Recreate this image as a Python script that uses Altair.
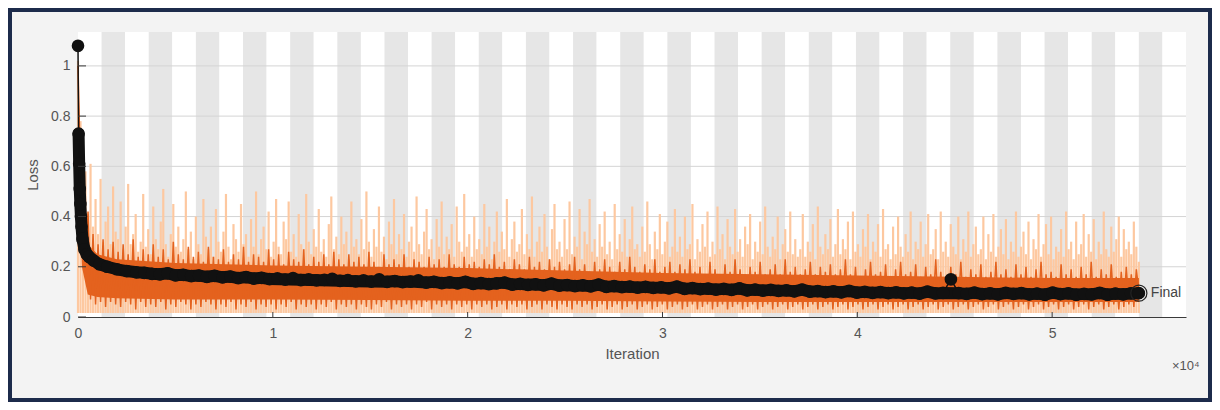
import altair as alt
import pandas as pd

# ---------------- data ----------------
# raw (light) training loss peaks, evenly sampled from iteration 0 to 54450
light_raw = [
    1.02, 0.78, 0.62, 0.58, 0.41, 0.61, 0.36, 0.47, 0.33, 0.55, 0.30, 0.38, 0.44, 0.29, 0.52, 0.34,
    0.31, 0.46, 0.27, 0.36, 0.53, 0.29, 0.33, 0.41, 0.26, 0.30, 0.49, 0.28, 0.35, 0.25, 0.44, 0.31,
    0.27, 0.38, 0.51, 0.29, 0.24, 0.33, 0.45, 0.28, 0.36, 0.26, 0.31, 0.50, 0.27, 0.34, 0.23, 0.40,
    0.29, 0.25, 0.47, 0.32, 0.27, 0.36, 0.24, 0.43, 0.30, 0.26, 0.34, 0.49, 0.28, 0.23, 0.37, 0.31,
    0.26, 0.45, 0.29, 0.33, 0.24, 0.39, 0.28, 0.50, 0.25, 0.31, 0.36, 0.27, 0.42, 0.24, 0.30, 0.47,
    0.28, 0.25, 0.38, 0.31, 0.46, 0.26, 0.33, 0.24, 0.41, 0.29, 0.27, 0.49, 0.30, 0.25, 0.35, 0.28,
    0.43, 0.26, 0.31, 0.24, 0.37, 0.48, 0.27, 0.32, 0.25, 0.40, 0.29, 0.34, 0.23, 0.46, 0.28, 0.31,
    0.25, 0.39, 0.27, 0.50, 0.30, 0.24, 0.35, 0.28, 0.44, 0.26, 0.32, 0.23, 0.38, 0.29, 0.47, 0.25,
    0.33, 0.27, 0.41, 0.24, 0.30, 0.36, 0.26, 0.48, 0.29, 0.25, 0.34, 0.43, 0.27, 0.31, 0.23, 0.39,
    0.28, 0.46, 0.25, 0.32, 0.27, 0.37, 0.24, 0.44, 0.30, 0.26, 0.49, 0.28, 0.33, 0.24, 0.40, 0.27,
    0.31, 0.25, 0.45, 0.28, 0.36, 0.23, 0.30, 0.42, 0.26, 0.34, 0.27, 0.47, 0.24, 0.31, 0.38, 0.26,
    0.29, 0.43, 0.25, 0.33, 0.27, 0.48, 0.24, 0.30, 0.36, 0.26, 0.41, 0.28, 0.23, 0.35, 0.45, 0.27,
    0.30, 0.24, 0.39, 0.27, 0.46, 0.25, 0.32, 0.28, 0.43, 0.23, 0.34, 0.29, 0.47, 0.26, 0.31, 0.24,
    0.37, 0.28, 0.42, 0.25, 0.30, 0.23, 0.45, 0.27, 0.33, 0.26, 0.39, 0.24, 0.31, 0.44, 0.27, 0.29,
    0.24, 0.36, 0.26, 0.46, 0.29, 0.23, 0.34, 0.27, 0.41, 0.25, 0.30, 0.38, 0.24, 0.28, 0.43, 0.26,
    0.32, 0.24, 0.40, 0.27, 0.29, 0.45, 0.23, 0.31, 0.26, 0.37, 0.28, 0.42, 0.24, 0.30, 0.25, 0.44,
    0.27, 0.33, 0.23, 0.39, 0.28, 0.25, 0.43, 0.26, 0.31, 0.24, 0.36, 0.29, 0.41, 0.23, 0.30, 0.26,
    0.38, 0.25, 0.44, 0.28, 0.24, 0.32, 0.27, 0.40, 0.23, 0.29, 0.35, 0.26, 0.42, 0.25, 0.31, 0.24,
    0.27, 0.41, 0.24, 0.30, 0.26, 0.37, 0.23, 0.44, 0.28, 0.25, 0.33, 0.27, 0.39, 0.24, 0.29, 0.43,
    0.25, 0.31, 0.27, 0.38, 0.23, 0.42, 0.26, 0.29, 0.24, 0.35, 0.28, 0.41, 0.23, 0.30, 0.26, 0.37,
    0.24, 0.43, 0.27, 0.29, 0.23, 0.36, 0.25, 0.40, 0.28, 0.24, 0.33, 0.26, 0.42, 0.23, 0.30, 0.27,
    0.38, 0.24, 0.29, 0.41, 0.25, 0.27, 0.35, 0.23, 0.42, 0.26, 0.30, 0.24, 0.37, 0.28, 0.25, 0.40,
    0.23, 0.31, 0.26, 0.42, 0.24, 0.29, 0.36, 0.25, 0.27, 0.40, 0.23, 0.33, 0.26, 0.41, 0.24, 0.28,
    0.35, 0.25, 0.39, 0.23, 0.30, 0.26, 0.42, 0.24, 0.28, 0.34, 0.25, 0.38, 0.23, 0.31, 0.27, 0.41,
    0.24, 0.29, 0.37, 0.25, 0.40, 0.23, 0.28, 0.26, 0.35, 0.24, 0.42, 0.27, 0.30, 0.23, 0.38, 0.25,
    0.29, 0.41, 0.24, 0.33, 0.26, 0.39, 0.23, 0.30, 0.25, 0.42, 0.27, 0.24, 0.36, 0.26, 0.31, 0.40,
    0.24, 0.35, 0.27, 0.30, 0.25, 0.38, 0.28, 0.22,
]

# dark orange training trace (alternating highs / lows), evenly sampled 0 .. 54450
dark_raw = [
    1.00, 0.55, 0.70, 0.20, 0.42, 0.07, 0.33, 0.05, 0.29, 0.06, 0.31, 0.04, 0.27, 0.06, 0.30, 0.05,
    0.26, 0.04, 0.29, 0.06, 0.25, 0.05, 0.31, 0.03, 0.24, 0.06, 0.27, 0.04, 0.25, 0.05, 0.29, 0.04,
    0.24, 0.06, 0.27, 0.03, 0.23, 0.05, 0.30, 0.04, 0.25, 0.06, 0.23, 0.05, 0.28, 0.03, 0.24, 0.05,
    0.26, 0.04, 0.22, 0.06, 0.28, 0.05, 0.24, 0.03, 0.23, 0.05, 0.27, 0.04, 0.22, 0.06, 0.25, 0.03,
    0.23, 0.05, 0.28, 0.04, 0.22, 0.06, 0.25, 0.03, 0.24, 0.05, 0.22, 0.04, 0.27, 0.05, 0.23, 0.03,
    0.25, 0.05, 0.21, 0.04, 0.26, 0.06, 0.23, 0.03, 0.22, 0.05, 0.27, 0.04, 0.21, 0.05, 0.24, 0.03,
    0.22, 0.05, 0.25, 0.04, 0.21, 0.06, 0.26, 0.03, 0.23, 0.05, 0.21, 0.04, 0.25, 0.05, 0.22, 0.03,
    0.24, 0.05, 0.21, 0.04, 0.26, 0.03, 0.22, 0.05, 0.20, 0.04, 0.25, 0.06, 0.21, 0.03, 0.23, 0.05,
    0.21, 0.04, 0.25, 0.05, 0.20, 0.03, 0.23, 0.05, 0.22, 0.04, 0.20, 0.06, 0.24, 0.03, 0.21, 0.05,
    0.23, 0.04, 0.20, 0.05, 0.25, 0.03, 0.21, 0.05, 0.20, 0.04, 0.24, 0.05, 0.21, 0.03, 0.22, 0.05,
    0.20, 0.04, 0.23, 0.05, 0.21, 0.03, 0.25, 0.04, 0.20, 0.05, 0.22, 0.03, 0.19, 0.05, 0.23, 0.04,
    0.21, 0.05, 0.19, 0.03, 0.24, 0.04, 0.20, 0.05, 0.22, 0.03, 0.19, 0.05, 0.23, 0.04, 0.20, 0.03,
    0.22, 0.05, 0.19, 0.04, 0.21, 0.03, 0.24, 0.05, 0.19, 0.04, 0.21, 0.05, 0.18, 0.03, 0.22, 0.04,
    0.19, 0.05, 0.23, 0.03, 0.20, 0.04, 0.18, 0.05, 0.22, 0.03, 0.19, 0.04, 0.24, 0.05, 0.20, 0.03,
    0.18, 0.04, 0.21, 0.05, 0.19, 0.03, 0.23, 0.04, 0.18, 0.05, 0.20, 0.03, 0.22, 0.04, 0.18, 0.05,
    0.21, 0.03, 0.19, 0.04, 0.23, 0.05, 0.18, 0.03, 0.20, 0.04, 0.17, 0.05, 0.22, 0.03, 0.19, 0.04,
    0.17, 0.05, 0.21, 0.03, 0.18, 0.04, 0.23, 0.05, 0.19, 0.03, 0.17, 0.04, 0.20, 0.05, 0.18, 0.03,
    0.22, 0.04, 0.17, 0.05, 0.19, 0.03, 0.21, 0.04, 0.17, 0.05, 0.23, 0.03, 0.18, 0.04, 0.20, 0.05,
    0.17, 0.03, 0.19, 0.04, 0.22, 0.05, 0.17, 0.03, 0.20, 0.04, 0.18, 0.05, 0.21, 0.03, 0.17, 0.04,
    0.19, 0.05, 0.23, 0.03, 0.17, 0.04, 0.20, 0.05, 0.16, 0.03, 0.19, 0.04, 0.22, 0.05, 0.17, 0.03,
    0.18, 0.04, 0.21, 0.05, 0.16, 0.03, 0.19, 0.04, 0.22, 0.05, 0.17, 0.03, 0.18, 0.04, 0.21, 0.05,
    0.16, 0.03, 0.20, 0.04, 0.17, 0.05, 0.23, 0.03, 0.18, 0.04, 0.16, 0.05, 0.20, 0.03, 0.17, 0.04,
    0.22, 0.05, 0.16, 0.03, 0.19, 0.04, 0.17, 0.05, 0.21, 0.03, 0.16, 0.04, 0.18, 0.05, 0.22, 0.03,
    0.17, 0.04, 0.19, 0.05, 0.16, 0.03, 0.21, 0.04, 0.17, 0.05, 0.20, 0.03, 0.16, 0.04, 0.19, 0.05,
    0.22, 0.03, 0.17, 0.04, 0.18, 0.05, 0.16, 0.03, 0.21, 0.04, 0.17, 0.05, 0.19, 0.03, 0.16, 0.04,
    0.20, 0.05, 0.17, 0.03, 0.22, 0.04, 0.16, 0.05, 0.19, 0.03, 0.17, 0.04, 0.21, 0.05, 0.16, 0.03,
    0.18, 0.04, 0.20, 0.05, 0.17, 0.04, 0.19, 0.10,
]

# dense core of the dark trace (upper / lower edge)
core_iter = [0, 200, 500, 1000, 2000, 5000, 10000, 15000, 20000, 25000,
             30000, 35000, 40000, 45000, 50000, 54450]
dark_hi = [1.00, 0.45, 0.29, 0.25, 0.23, 0.215, 0.205, 0.20, 0.195, 0.185,
           0.175, 0.17, 0.165, 0.16, 0.155, 0.155]
dark_lo = [0.60, 0.20, 0.09, 0.08, 0.075, 0.07, 0.07, 0.068, 0.065, 0.065,
           0.062, 0.06, 0.06, 0.06, 0.06, 0.06]

# validation loss (black dots)
val_early_iter = [0, 30, 60, 90, 120, 150, 180, 230, 330, 450, 560, 800,
                  1100, 1500, 2000, 2500, 3000]
val_early = [1.08, 0.73, 0.61, 0.51, 0.45, 0.40, 0.36, 0.31, 0.27, 0.25, 0.24,
             0.225, 0.21, 0.20, 0.19, 0.183, 0.178]
val_late = [  # evenly spaced from 3400 to 54450
    0.176, 0.172, 0.170, 0.174, 0.166, 0.168, 0.163, 0.165, 0.160, 0.164, 0.158, 0.161, 0.155, 0.159, 0.153, 0.156,
    0.151, 0.154, 0.149, 0.155, 0.147, 0.150, 0.146, 0.148, 0.152, 0.144, 0.147, 0.142, 0.146, 0.141, 0.150, 0.140,
    0.143, 0.139, 0.141, 0.146, 0.137, 0.140, 0.135, 0.138, 0.134, 0.140, 0.132, 0.135, 0.131, 0.134, 0.137, 0.129,
    0.132, 0.128, 0.130, 0.126, 0.133, 0.125, 0.127, 0.123, 0.126, 0.122, 0.129, 0.120, 0.123, 0.119, 0.121, 0.117,
    0.120, 0.116, 0.118, 0.114, 0.121, 0.112, 0.115, 0.111, 0.113, 0.109, 0.112, 0.108, 0.114, 0.106, 0.109, 0.105,
    0.108, 0.104, 0.106, 0.102, 0.109, 0.101, 0.103, 0.099, 0.102, 0.098, 0.104, 0.097, 0.100, 0.096, 0.099, 0.095,
    0.098, 0.094, 0.097, 0.093, 0.101, 0.094, 0.096, 0.150, 0.095, 0.092, 0.097, 0.091, 0.094, 0.090, 0.096, 0.092,
    0.095, 0.090, 0.093, 0.089, 0.097, 0.091, 0.094, 0.089, 0.092, 0.090, 0.096, 0.089, 0.093, 0.090, 0.094, 0.095,
]
val_late_start = 3400

final_iter = 54450
iters_per_epoch = 1210
n_epochs_shown = 47
x_ticks = [0, 10000, 20000, 30000, 40000, 50000]
y_ticks = [0, 0.2, 0.4, 0.6, 0.8, 1.0]

# ---------------- build tables ----------------
W, H = 1108, 285
XMAX = iters_per_epoch * n_epochs_shown
YMAX = 1.135

def even_iters(values, start, end):
    n = len(values)
    return [start + (end - start) * i / (n - 1) for i in range(n)]

light_df = pd.DataFrame({"iter": even_iters(light_raw, 0, final_iter), "loss": light_raw})
dark_df = pd.DataFrame({"iter": even_iters(dark_raw, 0, final_iter), "loss": dark_raw})
core_df = pd.DataFrame({"iter": core_iter, "dhi": dark_hi, "dlo": dark_lo})
val_df = pd.DataFrame({
    "iter": val_early_iter + even_iters(val_late, val_late_start, final_iter),
    "loss": val_early + val_late,
})
final_df = pd.DataFrame({"iter": [final_iter], "loss": [val_late[-1]], "label": ["Final"]})
bands_df = pd.DataFrame({
    "start": [k * iters_per_epoch for k in range(n_epochs_shown)],
    "end": [(k + 1) * iters_per_epoch for k in range(n_epochs_shown)],
    "shade": ["g" if k % 2 == 1 else "w" for k in range(n_epochs_shown)],
})
grid_df = pd.DataFrame({"y": [v for v in y_ticks if v > 0]})
ytick_df = pd.DataFrame({"y": y_ticks})
xtick_df = pd.DataFrame({"x": x_ticks[1:]})

FONT = "Liberation Sans"
TXT = "#555555"
AX = "#3a3a3a"

x_scale = alt.Scale(domain=[0, XMAX], nice=False, zero=False)
y_scale = alt.Scale(domain=[0, YMAX], nice=False)
x_axis = alt.Axis(values=x_ticks, labelExpr="format(datum.value/10000, '~g')",
                  title="Iteration", grid=False, tickSize=0, labelPadding=9,
                  titlePadding=6, domainColor=AX, labelColor=TXT, titleColor=TXT,
                  labelFontSize=14, titleFontSize=15, labelFont=FONT, titleFont=FONT,
                  titleFontWeight="normal", labelFlush=False, labelOverlap=False)
y_axis = alt.Axis(values=y_ticks, format="~g", title="Loss", grid=False, tickSize=0,
                  labelPadding=8, titlePadding=10, domainColor=AX, labelColor=TXT,
                  titleColor=TXT, labelFontSize=14, titleFontSize=15, labelFont=FONT,
                  titleFont=FONT, titleFontWeight="normal", labelFlush=False,
                  labelOverlap=False)

def X(f):
    return alt.X(f, type="quantitative", scale=x_scale, axis=x_axis)

def Y(f):
    return alt.Y(f, type="quantitative", scale=y_scale, axis=y_axis)

bands = alt.Chart(bands_df).mark_rect().encode(
    x=X("start"), x2="end",
    y=alt.value(0), y2=alt.value(H),
    color=alt.Color("shade:N", scale=alt.Scale(domain=["w", "g"], range=["#ffffff", "#e6e6e6"]), legend=None),
)
grid = alt.Chart(grid_df).mark_rule(color="#d4d4d4", strokeWidth=1).encode(
    y=Y("y"), x=alt.value(0), x2=alt.value(W))

LIGHT = "#fdc8a0"
DARK = "#e4621e"

light_spikes = alt.Chart(light_df).mark_rule(color=LIGHT, strokeWidth=2.2).encode(
    x=X("iter"), y=Y("loss"), y2=alt.value(H - 4))
dark_core = alt.Chart(core_df).mark_area(color=DARK, opacity=1).encode(
    x=X("iter"), y=Y("dhi"), y2="dlo")
dark_line = alt.Chart(dark_df).mark_line(color=DARK, strokeWidth=1.5).encode(
    x=X("iter"), y=Y("loss"))
val_band = alt.Chart(val_df).transform_filter(
    "datum.iter >= 30 && datum.loss < 0.145 || datum.iter < 10000 && datum.iter >= 30"
).mark_line(color="#111111", strokeWidth=12, strokeCap="round", strokeJoin="round").encode(
    x=X("iter"), y=Y("loss"))
val_line = alt.Chart(val_df).mark_line(color="#111111", strokeWidth=1.5).encode(
    x=X("iter"), y=Y("loss"))
val_pts = alt.Chart(val_df).mark_circle(color="#111111", size=160, opacity=1).encode(
    x=X("iter"), y=Y("loss"))
final_pt = alt.Chart(final_df).mark_point(shape="circle", filled=False, size=260,
                                          color="#222222", strokeWidth=1.2, opacity=1).encode(
    x=X("iter"), y=Y("loss"))
final_txt = alt.Chart(final_df).mark_text(align="left", baseline="middle", dx=12,
                                          font=FONT, fontSize=14, color="#444444").encode(
    x=X("iter"), y=Y("loss"), text="label:N")
yticks = alt.Chart(ytick_df).mark_rule(color=AX, strokeWidth=1).encode(
    y=Y("y"), x=alt.value(0), x2=alt.value(8))
xticks = alt.Chart(xtick_df).mark_rule(color=AX, strokeWidth=1).encode(
    x=X("x"), y=alt.value(H), y2=alt.value(H - 5))
exp_txt = alt.Chart(pd.DataFrame({"t": ["\u00d710\u2074"]})).mark_text(
    align="left", baseline="middle", font=FONT, fontSize=13, color=TXT).encode(
    x=alt.value(1094), y=alt.value(334), text="t:N")
frame = alt.Chart(pd.DataFrame({"a": [0]})).mark_rect(
    fill="transparent", stroke="#1c2b4b", strokeWidth=4).encode(
    x=alt.value(-68), x2=alt.value(1132), y=alt.value(-22), y2=alt.value(368))

chart = alt.layer(
    bands, grid, light_spikes, dark_core, dark_line,
    val_band, val_line, val_pts, final_pt, final_txt, yticks, xticks, exp_txt, frame,
).properties(
    width=W, height=H,
    padding={"left": 70, "top": 24, "right": 26, "bottom": 85},
    autosize=alt.AutoSizeParams(type="none"),
    background="#f3f3f3",
).configure_view(stroke=None, fill="#ffffff")

chart.save("out.html", embed_options={"renderer": "svg", "actions": False})
